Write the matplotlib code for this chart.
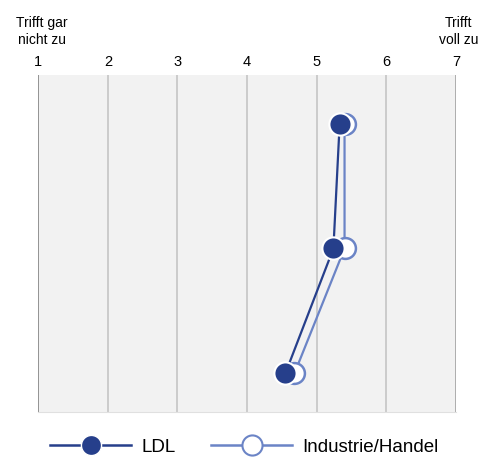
import matplotlib
matplotlib.use('Agg')
import matplotlib.pyplot as plt
from matplotlib.lines import Line2D

plt.rcParams['font.family'] = ['Liberation Sans', 'DejaVu Sans']

# Data
items = [0, 1, 2]
ldl = [5.33, 5.24, 4.55]
industrie = [5.40, 5.40, 4.68]
scale_ticks = [1, 2, 3, 4, 5, 6, 7]

LDL_COLOR = '#263f8b'
IND_COLOR = '#6b84c6'

fig = plt.figure(figsize=(4.84, 4.59), dpi=100)
ax = fig.add_axes([0.079, 0.102, 0.863, 0.735])
ax.set_facecolor('#f2f2f2')

ax.set_xlim(1, 7)
ax.set_ylim(2.31, -0.39)

for x in scale_ticks[1:-1]:
    ax.axvline(x, color='#c8c8c8', linewidth=1.3, zorder=1)
ax.axvline(1, color='#8c8c8c', linewidth=1.3, zorder=1)
ax.axvline(7, color='#a8a8a8', linewidth=1.3, zorder=1)

ax.plot(industrie, items, color=IND_COLOR, linewidth=1.6, marker='o',
        markersize=15, markerfacecolor='white', markeredgecolor=IND_COLOR,
        markeredgewidth=1.8, zorder=3)
ax.plot(ldl, items, color=LDL_COLOR, linewidth=1.6, marker='o',
        markersize=16, markerfacecolor=LDL_COLOR, markeredgecolor='white',
        markeredgewidth=1.5, zorder=4)

for s in ax.spines.values():
    s.set_visible(False)
ax.spines['bottom'].set_visible(True)
ax.spines['bottom'].set_color('#e0e0e0')

ax.xaxis.tick_top()
ax.set_xticks(scale_ticks)
ax.set_xticklabels([str(t) for t in scale_ticks], fontsize=10.5)
ax.tick_params(axis='x', length=0, pad=4)
ax.set_yticks([])

fig.text(0.086, 0.932, 'Trifft gar\nnicht zu', ha='center', va='center',
         fontsize=10, linespacing=1.25)
fig.text(0.948, 0.932, 'Trifft\nvoll zu', ha='center', va='center',
         fontsize=10, linespacing=1.25)

handles = [
    Line2D([], [], color=LDL_COLOR, linewidth=1.8, marker='o', markersize=14.5,
           markerfacecolor=LDL_COLOR, markeredgecolor='white'),
    Line2D([], [], color=IND_COLOR, linewidth=1.8, marker='o', markersize=14.5,
           markerfacecolor='white', markeredgecolor=IND_COLOR, markeredgewidth=1.5),
]
fig.legend(handles, ['LDL', 'Industrie/Handel'], loc='center',
           bbox_to_anchor=(0.505, 0.026), ncol=2, frameon=False, fontsize=13.5,
           handlelength=4.3, columnspacing=1.9, handletextpad=0.55)

fig.savefig('out.png', dpi=100, facecolor='white')
